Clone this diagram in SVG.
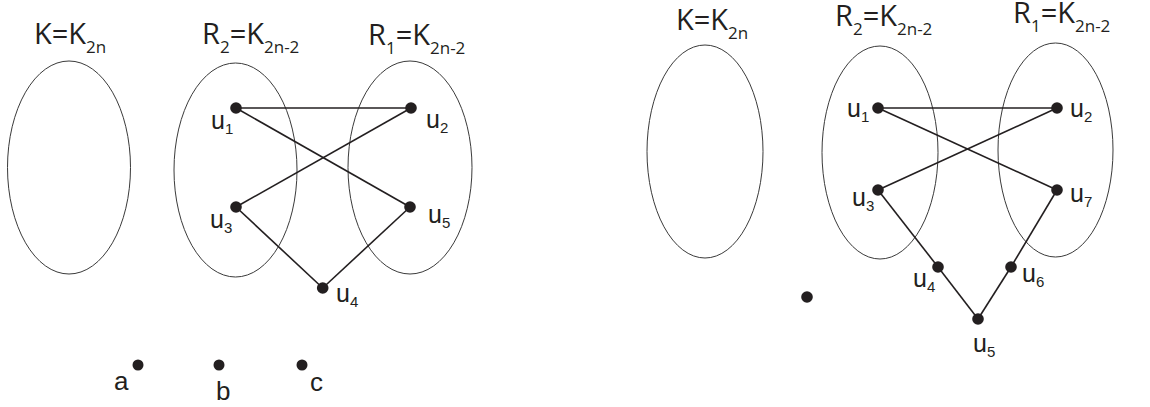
<svg xmlns="http://www.w3.org/2000/svg" width="1150" height="407" viewBox="0 0 1150 407">
<style>
.set{fill:none;stroke:#3a3a3a;stroke-width:1}
.e{stroke:#231f20;stroke-width:1.6;fill:none}
.v{fill:#231f20}
.t{font-family:"Open Sans","Noto Sans",sans-serif;font-size:29px;fill:#231f20}
.ts{font-size:17px}
.l{font-family:"Liberation Sans",Arial,sans-serif;font-size:25px;fill:#231f20}
.ls{font-size:15px}
.abc{font-size:26px}
</style>
<rect width="1150" height="407" fill="#fff"/>
<g id="left">
  <g id="L-setK"><ellipse class="set" cx="69" cy="167.5" rx="61.5" ry="106.5"/><text class="t" x="34" y="44">K=K<tspan class="ts" dy="9">2n</tspan></text></g>
  <g id="L-setR2"><ellipse class="set" cx="235.5" cy="170" rx="61.5" ry="107"/><text class="t" x="202" y="44">R<tspan class="ts" dy="9">2</tspan><tspan dy="-9">=K</tspan><tspan class="ts" dy="9">2n-2</tspan></text></g>
  <g id="L-setR1"><ellipse class="set" cx="410" cy="167.5" rx="62" ry="106.5"/><text class="t" x="368" y="45">R<tspan class="ts" dy="9">1</tspan><tspan dy="-9">=K</tspan><tspan class="ts" dy="9">2n-2</tspan></text></g>
  <g id="L-edges">
    <line class="e" x1="236" y1="108" x2="411" y2="108"/>
    <line class="e" x1="236" y1="108" x2="410" y2="207"/>
    <line class="e" x1="411" y1="108" x2="236" y2="207"/>
    <line class="e" x1="236" y1="207" x2="322.7" y2="288"/>
    <line class="e" x1="322.7" y1="288" x2="410" y2="207"/>
  </g>
  <g id="L-u1"><circle class="v" cx="236" cy="108" r="5.8"/><text class="l" x="211" y="129">u<tspan class="ls" dy="5">1</tspan></text></g>
  <g id="L-u2"><circle class="v" cx="411" cy="108" r="5.8"/><text class="l" x="426" y="128">u<tspan class="ls" dy="5">2</tspan></text></g>
  <g id="L-u3"><circle class="v" cx="236" cy="207" r="5.8"/><text class="l" x="210" y="228">u<tspan class="ls" dy="5">3</tspan></text></g>
  <g id="L-u5"><circle class="v" cx="410" cy="207" r="5.8"/><text class="l" x="428" y="223">u<tspan class="ls" dy="5">5</tspan></text></g>
  <g id="L-u4"><circle class="v" cx="322.7" cy="288" r="5.8"/><text class="l" x="336" y="302">u<tspan class="ls" dy="5">4</tspan></text></g>
  <g id="L-a"><circle class="v" cx="138" cy="365" r="5.5"/><text class="l abc" x="114" y="390">a</text></g>
  <g id="L-b"><circle class="v" cx="219" cy="365" r="5.5"/><text class="l abc" x="216" y="400">b</text></g>
  <g id="L-c"><circle class="v" cx="302" cy="365" r="5.5"/><text class="l abc" x="310" y="391">c</text></g>
</g>
<g id="right">
  <g id="R-setK"><ellipse class="set" cx="705" cy="151.5" rx="58" ry="106.5"/><text class="t" x="676" y="30">K=K<tspan class="ts" dy="9">2n</tspan></text></g>
  <g id="R-setR2"><ellipse class="set" cx="880" cy="152.5" rx="58" ry="106.5"/><text class="t" x="835" y="26">R<tspan class="ts" dy="9">2</tspan><tspan dy="-9">=K</tspan><tspan class="ts" dy="9">2n-2</tspan></text></g>
  <g id="R-setR1"><ellipse class="set" cx="1055.5" cy="150" rx="57.5" ry="107"/><text class="t" x="1013" y="23">R<tspan class="ts" dy="9">1</tspan><tspan dy="-9">=K</tspan><tspan class="ts" dy="9">2n-2</tspan></text></g>
  <g id="R-edges">
    <line class="e" x1="878" y1="108" x2="1057" y2="108"/>
    <line class="e" x1="878" y1="108" x2="1057" y2="190"/>
    <line class="e" x1="1057" y1="108" x2="878" y2="190"/>
    <line class="e" x1="878" y1="190" x2="938" y2="267"/>
    <line class="e" x1="938" y1="267" x2="978" y2="319"/>
    <line class="e" x1="978" y1="319" x2="1011" y2="267"/>
    <line class="e" x1="1011" y1="267" x2="1057" y2="190"/>
  </g>
  <g id="R-u1"><circle class="v" cx="878" cy="108" r="5.8"/><text class="l" x="847" y="117">u<tspan class="ls" dy="5">1</tspan></text></g>
  <g id="R-u2"><circle class="v" cx="1057" cy="108" r="5.8"/><text class="l" x="1070" y="117">u<tspan class="ls" dy="5">2</tspan></text></g>
  <g id="R-u3"><circle class="v" cx="878" cy="190" r="5.8"/><text class="l" x="852" y="206">u<tspan class="ls" dy="5">3</tspan></text></g>
  <g id="R-u7"><circle class="v" cx="1057" cy="190" r="5.8"/><text class="l" x="1070" y="202">u<tspan class="ls" dy="5">7</tspan></text></g>
  <g id="R-u4"><circle class="v" cx="938" cy="267" r="5.8"/><text class="l" x="913" y="287">u<tspan class="ls" dy="5">4</tspan></text></g>
  <g id="R-u6"><circle class="v" cx="1011" cy="267" r="5.8"/><text class="l" x="1022" y="282">u<tspan class="ls" dy="5">6</tspan></text></g>
  <g id="R-u5"><circle class="v" cx="978" cy="319" r="5.8"/><text class="l" x="973" y="352">u<tspan class="ls" dy="5">5</tspan></text></g>
  <g id="R-dot"><circle class="v" cx="807" cy="297" r="5.8"/></g>
</g>
</svg>
